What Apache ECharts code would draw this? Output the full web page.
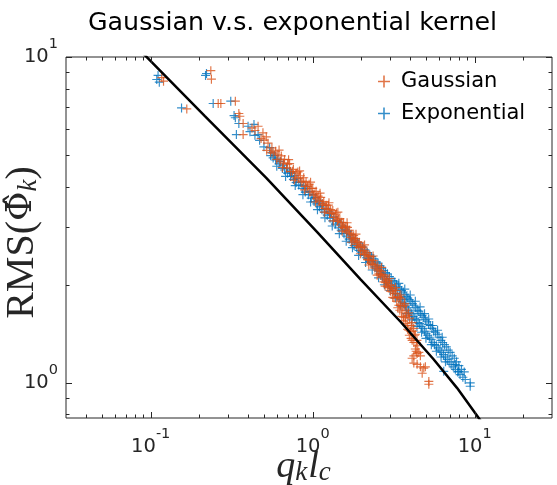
<!DOCTYPE html>
<html><head><meta charset="utf-8">
<script src="https://cdn.jsdelivr.net/npm/echarts@6/dist/echarts.min.js"></script>
<style>html,body{margin:0;padding:0;background:#fff}#c{width:557px;height:485px}</style>
</head><body><div id="c"></div>
<script>
// ---- data ----
const gaussianPts = [
 [0.117,8.64],[0.120,8.43],[0.235,9.08],[0.237,8.55],[0.167,6.93],[0.261,7.20],[0.271,7.20],[0.333,7.32],
 [0.350,6.71],[0.355,6.58],[0.372,6.25],[0.372,5.78],[0.422,6.06],[0.460,6.13],[0.493,5.85],[0.517,5.69],[0.44,5.95],[0.48,5.62],
 [0.50,5.56],[0.52,5.17],[0.53,5.44],[0.55,5.10],[0.56,5.26],[0.57,5.07],[0.59,5.14],[0.60,4.85],[0.61,5.01],
 [0.63,4.79],[0.64,4.97],[0.66,4.73],[0.67,4.85],[0.69,4.56],[0.70,4.69],[0.72,4.71],[0.73,4.45],[0.75,4.46],
 [0.76,4.52],[0.78,4.26],[0.79,4.40],[0.81,4.44],[0.82,4.25],[0.84,4.32],[0.85,4.13],[0.87,4.16],[0.88,4.26],
 [0.90,4.01],[0.91,4.14],[0.93,4.01],[0.95,4.07],[0.96,3.85],[0.98,3.95],[1.00,3.95],[1.01,3.77],[1.03,3.80],
 [1.05,3.87],[1.06,3.67],[1.08,3.74],[1.10,3.62],[1.12,3.71],[1.14,3.51],[1.15,3.55],[1.17,3.60],[1.19,3.43],
 [1.21,3.51],[1.23,3.42],[1.25,3.51],[1.27,3.31],[1.29,3.40],[1.31,3.31],[1.33,3.38],[1.35,3.22],[1.38,3.28],
 [1.40,3.32],[1.42,3.13],[1.44,3.17],[1.47,3.19],[1.49,3.05],[1.51,3.11],[1.53,3.00],[1.55,3.10],[1.57,2.985],
 [1.60,3.02],[1.62,2.90],[1.64,3.00],[1.67,2.88],[1.69,2.94],[1.72,2.79],[1.74,2.86],[1.77,2.76],[1.79,2.83],
 [1.81,2.73],[1.84,2.77],[1.86,2.66],[1.89,2.71],[1.91,2.62],[1.94,2.70],[1.96,2.60],[1.99,2.63],[2.02,2.54],
 [2.05,2.61],[2.08,2.48],[2.10,2.54],[2.13,2.47],[2.16,2.51],[2.18,2.39],[2.21,2.45],[2.23,2.38],[2.26,2.44],
 [2.29,2.33],[2.32,2.38],[2.35,2.31],[2.38,2.37],[2.42,2.25],[2.45,2.30],[2.49,2.22],[2.52,2.28],[2.56,2.16],
 [2.59,2.22],[2.62,2.14],[2.65,2.20],[2.68,2.11],[2.72,2.15],[2.75,2.04],[2.79,2.13],[2.82,2.03],[2.86,2.07],
 [2.89,1.97],[2.92,2.06],[2.95,1.96],[2.99,2.00],[3.02,1.91],[3.06,1.99],[3.10,1.90],[3.14,1.94],[3.18,1.82],
 [3.22,1.88],[3.26,1.92],[3.30,1.78],[3.35,1.84],[3.40,1.73],[3.44,1.83],[3.47,1.73],[3.51,1.81],[3.55,1.65],
 [3.60,1.72],[3.64,1.59],[3.68,1.73],[3.73,1.59],[3.78,1.67],[3.83,1.50],[3.87,1.61],[3.92,1.45],[3.96,1.58],
 [4.01,1.44],[4.06,1.50],[4.11,1.35],[4.16,1.44],[4.21,1.33],[4.26,1.40],[4.30,1.27],[4.36,1.33],[4.41,1.23],
 [3.35,1.70],[3.45,1.67],[3.55,1.60],[3.65,1.55],[3.75,1.52],[3.85,1.46],[3.95,1.40],[4.05,1.37],[3.25,1.96],
 [3.50,1.86],[3.70,1.75],[3.90,1.64],[4.10,1.53],[4.20,1.47],[4.30,1.41],[4.40,1.35],[4.45,1.30],[4.35,1.25],
 [0.62,5.18],[0.65,4.58],[0.71,4.84],[0.77,4.19],[0.83,4.47],[0.89,3.91],[0.97,4.13],[1.04,3.59],[1.11,3.82],
 [1.18,3.34],[1.26,3.57],[1.34,3.14],[1.43,3.34],[1.52,2.92],[1.63,3.10],[1.73,2.70],[1.85,2.86],[1.97,2.49],
 [2.09,2.65],[2.22,2.30],[2.36,2.45],[2.50,2.14],[2.66,2.26],[2.80,1.98],[2.97,2.09],[3.12,1.83],
 [4.11,1.19],[4.21,1.21],[4.21,1.15],[4.41,1.14],[4.52,1.24],[4.62,1.21],[4.62,1.12],[4.85,1.11],[4.74,1.07],
 [4.96,1.12],[5.21,1.01],[5.21,0.99]
];
const exponentialPts = [
 [0.109,8.53],[0.111,8.78],[0.113,8.37],[0.221,8.90],[0.218,8.78],[0.155,6.98],[0.243,7.20],[0.312,7.32],
 [0.327,6.61],[0.333,6.51],[0.350,6.25],[0.338,5.78],[0.399,6.13],[0.434,6.21],[0.460,5.78],[0.542,5.27],
 [0.41,5.90],[0.44,5.75],[0.47,5.55],[0.50,5.30],
 [0.55,4.98],[0.56,5.08],[0.57,4.90],[0.58,4.99],[0.59,4.83],[0.61,4.86],[0.62,4.70],[0.63,4.78],
 [0.65,4.55],[0.66,4.66],[0.67,4.50],[0.69,4.56],[0.70,4.40],[0.72,4.45],[0.73,4.30],[0.74,4.40],[0.76,4.21],
 [0.77,4.32],[0.79,4.12],[0.80,4.23],[0.82,4.05],[0.84,4.13],[0.86,3.95],[0.88,4.03],[0.90,3.85],[0.92,3.95],
 [0.94,3.78],[0.96,3.86],[0.98,3.69],[1.00,3.78],[1.02,3.60],[1.04,3.70],[1.06,3.54],[1.08,3.63],[1.10,3.47],
 [1.12,3.56],[1.14,3.40],[1.16,3.50],[1.18,3.34],[1.21,3.42],[1.23,3.27],[1.26,3.35],[1.28,3.20],[1.30,3.30],
 [1.33,3.14],[1.35,3.23],[1.38,3.07],[1.41,3.15],[1.44,2.99],[1.47,3.10],[1.50,2.94],[1.53,3.03],[1.56,2.87],
 [1.59,2.96],[1.62,2.82],[1.65,2.92],[1.68,2.76],[1.71,2.85],[1.74,2.70],[1.77,2.78],[1.80,2.64],[1.83,2.74],
 [1.87,2.60],[1.90,2.69],[1.93,2.55],[1.97,2.63],[2.00,2.52],[2.03,2.61],[2.07,2.47],[2.10,2.56],[2.14,2.42],
 [2.17,2.51],[2.21,2.40],[2.25,2.47],[2.28,2.36],[2.31,2.44],[2.35,2.31],[2.38,2.40],[2.42,2.27],[2.45,2.35],
 [2.49,2.24],[2.53,2.33],[2.56,2.20],[2.60,2.29],[2.63,2.16],[2.67,2.25],[2.70,2.12],[2.74,2.21],[2.78,2.08],
 [2.81,2.18],[2.85,2.05],[2.89,2.16],[2.93,2.02],[2.97,2.12],[3.01,1.98],[3.05,2.09],[3.09,1.95],[3.13,2.06],
 [3.17,1.92],[3.21,2.04],[3.25,1.88],[3.29,2.00],[3.33,1.86],[3.37,1.97],[3.41,1.83],[3.45,1.94],[3.50,1.80],
 [3.53,1.92],[3.58,1.77],[3.62,1.90],[3.66,1.75],[3.70,1.87],[3.74,1.72],[3.78,1.84],[3.82,1.70],[3.86,1.82],
 [3.90,1.67],[3.94,1.80],[3.99,1.65],[4.03,1.78],[4.08,1.63],[4.12,1.75],[4.17,1.60],[4.22,1.73],[4.27,1.58],
 [4.32,1.70],[4.37,1.56],[4.42,1.67],[4.47,1.53],[4.52,1.66],[4.57,1.52],[4.62,1.63],[4.67,1.49],[4.73,1.61],
 [4.78,1.47],[4.84,1.59],[4.90,1.44],[4.96,1.56],[5.01,1.42],[5.07,1.54],[5.13,1.40],[5.19,1.51],[5.25,1.38],
 [5.32,1.50],[5.38,1.36],[5.45,1.47],[5.52,1.33],[5.58,1.44],[5.65,1.31],[5.72,1.43],[5.80,1.30],[5.87,1.41],
 [5.95,1.28],[6.02,1.38],[6.10,1.26],[6.18,1.35],[6.26,1.24],[6.34,1.33],[6.42,1.22],[6.50,1.31],[6.59,1.20],
 [6.68,1.29],[6.77,1.18],[6.86,1.26],[6.95,1.16],[7.05,1.24],[7.15,1.14],[7.26,1.21],[7.37,1.12],[7.48,1.19],
 [7.60,1.10],[7.72,1.16],[7.85,1.08],[7.98,1.13],[8.12,1.06],[8.28,1.10],[8.45,1.04],[8.62,1.08],
 [3.40,2.02],[3.70,1.94],[4.00,1.86],[4.30,1.78],[4.60,1.71],[4.90,1.63],[5.20,1.57],[5.50,1.50],[5.90,1.45],
 [6.30,1.38],[3.50,1.72],[3.80,1.63],[4.10,1.56],[4.40,1.49],[4.70,1.43],[5.00,1.37],[5.40,1.31],[5.80,1.25],
 [6.20,1.20],[6.60,1.16],
 [0.60,4.62],[0.68,4.30],[0.78,4.03],[0.87,3.78],[0.97,3.59],[1.07,3.40],[1.19,3.21],[1.32,3.03],[1.46,2.87],
 [1.61,2.72],[1.76,2.60],[1.92,2.46],[2.12,2.34],[2.33,2.22],[2.55,2.10],[2.77,2.00],[3.00,1.92],[3.25,1.82],
 [9.38,1.00],[9.38,0.976],[8.74,1.024],[6.44,1.085],[7.96,1.085],[7.59,1.138]
];
const kernelLine = [[0.09,10.25],[0.0926,10.1],[0.216,6.58],[0.5166,4.258],[1.073,2.89],[1.98,2.075],
 [3.485,1.54],[5.588,1.179],[7.77,0.9653],[10.56,0.781],[11.5,0.736]];
const seriesNames = ['Gaussian','Exponential'];
const xMajorTicks = [0.1,1,10];
const xMinorTicks = [0.04,0.05,0.06,0.07,0.08,0.09,0.2,0.3,0.4,0.5,0.6,0.7,0.8,0.9,2,3,4,5,6,7,8,9,20];
const yMajorTicks = [1,10];
const yMinorTicks = [0.8,0.9,2,3,4,5,6,7,8,9];

// ---- chart ----
const PLUS = 'path://M4.35,0H5.65V4.35H10V5.65H5.65V10H4.35V5.65H0V4.35H4.35Z';
const AX = '#262626';
const chart = echarts.init(document.getElementById('c'));
function decadeLabel(v){
  const l = Math.log10(v), e = Math.round(l);
  if (Math.abs(l - e) > 1e-6) return '';
  return '{b|10}{sup|' + e + '}';
}
const tickRich = {
  b: {fontFamily:'DejaVu Sans', fontSize:19.5, lineHeight:40, color:AX},
  sup: {fontFamily:'DejaVu Sans', fontSize:14.5, lineHeight:14.5, verticalAlign:'top', color:AX}
};
const xTickData = xMajorTicks.map(v=>[v,2,1]).concat(xMinorTicks.map(v=>[v,2,0]));
const yTickData = yMajorTicks.map(v=>[1,v,1]).concat(yMinorTicks.map(v=>[1,v,0]));
function tickRender(isX){
  return function(params, api){
    const cs = params.coordSys;
    const len = api.value(2) ? 6 : 3.5;
    const st = {stroke:AX, lineWidth:1};
    if (isX){
      const x = Math.round(api.coord([api.value(0), 2])[0]) + 0.5;
      const b = cs.y + cs.height, t = cs.y;
      return {type:'group', children:[
        {type:'line', shape:{x1:x,y1:b,x2:x,y2:b-len}, style:st},
        {type:'line', shape:{x1:x,y1:t,x2:x,y2:t+len}, style:st}]};
    } else {
      const y = Math.round(api.coord([1, api.value(1)])[1]) + 0.5;
      const l = cs.x, r = cs.x + cs.width;
      return {type:'group', children:[
        {type:'line', shape:{x1:l,y1:y,x2:l+len,y2:y}, style:st},
        {type:'line', shape:{x1:r,y1:y,x2:r-len,y2:y}, style:st}]};
    }
  };
}
chart.setOption({
  animation:false,
  backgroundColor:'#fff',
  title:{text:'Gaussian v.s. exponential kernel', left:83, top:6,
    textStyle:{fontFamily:'DejaVu Sans', fontSize:25.3, fontWeight:'normal', color:'#000'}},
  legend:{data:seriesNames, orient:'vertical', left:373, top:66, itemGap:11,
    itemWidth:12, itemHeight:12, icon:PLUS,
    textStyle:{fontFamily:'DejaVu Sans', fontSize:21, color:'#000', padding:[0,0,0,6]}},
  grid:{left:66, right:5, top:57, bottom:67, containLabel:false, outerBoundsMode:'none',
    show:true, borderColor:AX, borderWidth:1, backgroundColor:'transparent'},
  xAxis:{type:'log', logBase:10, min:0.03, max:30,
    axisLine:{show:false}, axisTick:{show:false}, splitLine:{show:false},
    axisLabel:{formatter:decadeLabel, rich:tickRich, margin:9, showMinLabel:false, showMaxLabel:false},
    name:'{m|q}{s|k}{m|l}{s|c}', nameLocation:'middle', nameGap:30, nameMoveOverlap:false,
    nameTextStyle:{padding:[0,10,0,0], rich:{
      m:{fontFamily:'Liberation Serif', fontStyle:'italic', fontSize:38, lineHeight:38, color:AX},
      s:{fontFamily:'Liberation Serif', fontStyle:'italic', fontSize:27, lineHeight:19, verticalAlign:'bottom', color:AX, padding:[0,1,0,0]}}}},
  yAxis:{type:'log', logBase:10, min:0.78, max:10,
    axisLine:{show:false}, axisTick:{show:false}, splitLine:{show:false},
    axisLabel:{formatter:decadeLabel, rich:tickRich, margin:8, showMinLabel:false},
    name:'{r|RMS(}{p|Φ̂}{s|k}{r|)}', nameLocation:'middle', nameGap:24, nameRotate:90, nameMoveOverlap:false,
    nameTextStyle:{padding:[0,10,0,0], rich:{
      r:{fontFamily:'Liberation Serif', fontSize:40, lineHeight:40, color:AX},
      p:{fontFamily:'DejaVu Serif', fontSize:36, lineHeight:40, color:AX},
      s:{fontFamily:'Liberation Serif', fontStyle:'italic', fontSize:27, lineHeight:21, verticalAlign:'bottom', color:AX}}}},
  series:[
    {name:'Exponential', type:'scatter', data:exponentialPts, symbol:PLUS, symbolSize:9,
      itemStyle:{color:'#0072BD'}, z:2},
    {name:'Gaussian', type:'scatter', data:gaussianPts, symbol:PLUS, symbolSize:9,
      itemStyle:{color:'#D95319'}, z:3},
    {type:'line', data:kernelLine, showSymbol:false, symbol:'none', smooth:false,
      lineStyle:{color:'#000', width:2.5}, z:4, silent:true},
    {type:'custom', data:xTickData, renderItem:tickRender(true), clip:false, silent:true, z:5},
    {type:'custom', data:yTickData, renderItem:tickRender(false), clip:false, silent:true, z:5}
  ]
});
</script></body></html>
